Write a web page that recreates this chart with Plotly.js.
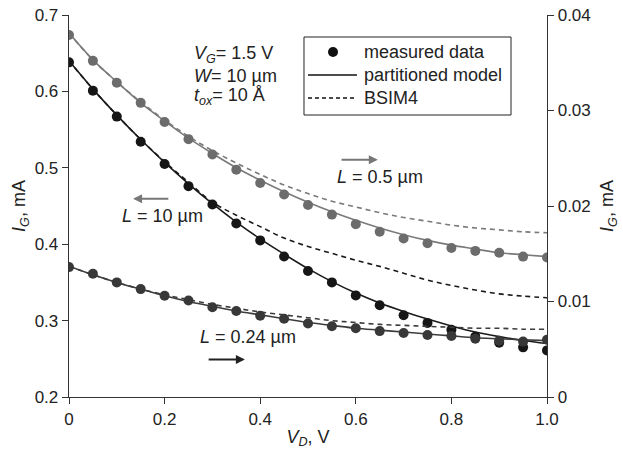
<!DOCTYPE html>
<html>
<head>
<meta charset="utf-8">
<script src="https://cdn.plot.ly/plotly-3.0.1.min.js"></script>
<style>html,body{margin:0;padding:0;background:#fff;}#chart{width:623px;height:452px;}</style>
</head>
<body>
<div id="chart"></div>
<script>
// Drain voltage V_D (V)
const vd = [0,0.05,0.1,0.15,0.2,0.25,0.3,0.35,0.4,0.45,0.5,0.55,0.6,0.65,0.7,0.75,0.8,0.85,0.9,0.95,1.0];

// L = 10 um (left axis, mA)
const l10Measured = [0.638,0.601,0.567,0.534,0.505,0.476,0.452,0.427,0.405,0.384,0.365,0.350,0.333,0.320,0.307,0.297,0.288,0.279,0.271,0.265,0.261];
const l10Model    = [0.640,0.603,0.569,0.537,0.507,0.479,0.453,0.429,0.407,0.387,0.368,0.351,0.336,0.323,0.312,0.302,0.293,0.285,0.279,0.274,0.270];
const l10Bsim4    = [0.640,0.603,0.569,0.537,0.508,0.481,0.455,0.438,0.423,0.408,0.397,0.388,0.379,0.371,0.362,0.353,0.346,0.340,0.335,0.332,0.330];

// L = 0.5 um (right axis, mA)
const l05Measured = [0.0379,0.0352,0.0329,0.0308,0.0288,0.0270,0.0254,0.0238,0.0224,0.0212,0.0201,0.0191,0.0181,0.0173,0.0166,0.0161,0.0156,0.0153,0.0151,0.0147,0.0146];
const l05Model    = [0.0381,0.0353,0.0330,0.0308,0.0289,0.0271,0.0255,0.0240,0.0227,0.0215,0.0204,0.0194,0.0185,0.0177,0.0170,0.0164,0.0159,0.0155,0.0151,0.0149,0.0147];
const l05Bsim4    = [0.0381,0.0353,0.0330,0.0309,0.0290,0.0273,0.0258,0.0245,0.0233,0.0222,0.0213,0.0205,0.0199,0.0193,0.0188,0.0184,0.0180,0.0177,0.0175,0.0173,0.0172];

// L = 0.24 um (right axis, mA)
const l024Measured = [0.0136,0.0129,0.0120,0.0113,0.0106,0.0101,0.0094,0.0090,0.0085,0.0082,0.0077,0.0074,0.0072,0.0069,0.0067,0.0065,0.0064,0.0061,0.0059,0.0058,0.0060];
const l024Model    = [0.0137,0.0128,0.0120,0.0113,0.0106,0.0100,0.0095,0.0090,0.0086,0.0082,0.0078,0.0075,0.0072,0.0070,0.0068,0.0066,0.0064,0.0062,0.0061,0.0060,0.0059];
const l024Bsim4    = [0.0137,0.0128,0.0120,0.0113,0.0107,0.0102,0.0097,0.0093,0.0089,0.0086,0.0083,0.0080,0.0078,0.0076,0.0075,0.0074,0.0073,0.0072,0.0072,0.0071,0.0071];

const xTicks = [0,0.2,0.4,0.6,0.8,1.0];
const xTickText = ['0','0.2','0.4','0.6','0.8','1.0'];
const legendNames = ['measured data','partitioned model','BSIM4'];

const FONT = 'Liberation Sans, Arial, Helvetica, sans-serif';
const cBlack = '#1a1a1a', cGray = '#7a7a7a', cDark = '#3c3c3c';
const DASH = '5px,4px';

function series(y, color, axis, markerColor) {
  return [
    {x: vd, y: y[1], yaxis: axis, mode: 'lines', line: {color: color, width: 1.6, shape: 'spline'}, showlegend: false, hoverinfo: 'skip'},
    {x: vd, y: y[2], yaxis: axis, mode: 'lines', line: {color: color, width: 1.6, dash: DASH, shape: 'spline'}, showlegend: false, hoverinfo: 'skip'},
    {x: vd, y: y[0], yaxis: axis, mode: 'markers', marker: {color: markerColor, size: 10}, showlegend: false}
  ];
}

const traces = [].concat(
  series([l05Measured, l05Model, l05Bsim4], cGray, 'y2', '#6c6c6c'),
  series([l024Measured, l024Model, l024Bsim4], cDark, 'y2', '#383838'),
  series([l10Measured, l10Model, l10Bsim4], cBlack, 'y', '#161616')
);

function arrow(x, y, ax, ay, color) {
  return {x: x, y: y, ax: ax, ay: ay, xref: 'x', yref: 'y', axref: 'x', ayref: 'y',
          showarrow: true, arrowhead: 2, arrowsize: 0.9, arrowwidth: 2, arrowcolor: color, text: ''};
}
function label(x, y, text, anchor) {
  return {x: x, y: y, xref: 'x', yref: 'y', text: text, showarrow: false,
          xanchor: anchor || 'center', yanchor: 'middle', font: {size: 18, color: '#222', family: FONT}};
}
function legendText(y, text) {
  return {x: 0.613, y: y, xref: 'paper', yref: 'paper', text: text, showarrow: false,
          xanchor: 'left', yanchor: 'middle', font: {size: 18, color: '#222', family: FONT}};
}

// manual legend box (paper coordinates)
const legRows = [0.9031, 0.8429, 0.7827];
const legendShapes = [
  {type: 'rect', xref: 'paper', yref: 'paper', x0: 0.4916, x1: 0.9247, y0: 0.7382, y1: 0.9424,
   line: {color: '#222', width: 1}, fillcolor: '#fff', layer: 'above'},
  {type: 'circle', xref: 'paper', yref: 'paper', xsizemode: 'pixel', ysizemode: 'pixel',
   xanchor: 0.5523, yanchor: legRows[0], x0: -5, x1: 5, y0: -5, y1: 5,
   line: {color: '#111', width: 0}, fillcolor: '#111', layer: 'above'},
  {type: 'line', xref: 'paper', yref: 'paper', x0: 0.500, x1: 0.6025, y0: legRows[1], y1: legRows[1],
   line: {color: '#111', width: 1.3}, layer: 'above'},
  {type: 'line', xref: 'paper', yref: 'paper', x0: 0.500, x1: 0.6025, y0: legRows[2], y1: legRows[2],
   line: {color: '#111', width: 1.3, dash: '4px,3px'}, layer: 'above'}
];

const layout = {
  width: 623, height: 452,
  margin: {l: 69, r: 76, t: 15, b: 55},
  paper_bgcolor: '#fff', plot_bgcolor: '#fff',
  font: {family: FONT, size: 17, color: '#222'},
  showlegend: false,
  xaxis: {
    range: [0, 1], tickvals: xTicks, ticktext: xTickText,
    showline: true, linecolor: '#333', linewidth: 1.3, ticks: 'outside', ticklen: 6, tickcolor: '#333',
    showgrid: false, zeroline: false, tickfont: {size: 17},
    title: {text: '<i>V</i><sub><i>D</i></sub>, V', font: {size: 18}, standoff: 2}
  },
  yaxis: {
    range: [0.2, 0.7], dtick: 0.1, tick0: 0.2,
    showline: true, linecolor: '#333', linewidth: 1.3, ticks: 'outside', ticklen: 6, tickcolor: '#333',
    showgrid: false, zeroline: false, tickfont: {size: 17},
    title: {text: '<i>I</i><sub><i>G</i></sub>, mA', font: {size: 18}, standoff: 4}
  },
  yaxis2: {
    range: [0, 0.04], dtick: 0.01, tick0: 0, overlaying: 'y', side: 'right',
    showline: true, linecolor: '#333', linewidth: 1.3, ticks: 'outside', ticklen: 6, tickcolor: '#333',
    showgrid: false, zeroline: false, tickfont: {size: 17},
    title: {text: '<i>I</i><sub><i>G</i></sub>, mA', font: {size: 18}, standoff: 10}
  },
  shapes: legendShapes,
  annotations: [
    label(0.257, 0.648, '<i>V</i><sub><i>G</i></sub>= 1.5 V', 'left'),
    label(0.257, 0.620, '<i>W</i>= 10 µm', 'left'),
    label(0.257, 0.593, '<i>t</i><sub><i>ox</i></sub>= 10 Å', 'left'),
    arrow(0.134, 0.4595, 0.211, 0.4595, '#777'),
    label(0.195, 0.437, '<i>L</i> = 10 µm'),
    arrow(0.646, 0.5105, 0.567, 0.5105, '#777'),
    label(0.651, 0.488, '<i>L</i> = 0.5 µm'),
    arrow(0.368, 0.249, 0.289, 0.249, '#222'),
    label(0.374, 0.278, '<i>L</i> = 0.24 µm'),
    legendText(legRows[0], legendNames[0]),
    legendText(legRows[1], legendNames[1]),
    legendText(legRows[2], legendNames[2])
  ]
};

Plotly.newPlot('chart', traces, layout, {displayModeBar: false, staticPlot: true});
</script>
</body>
</html>
